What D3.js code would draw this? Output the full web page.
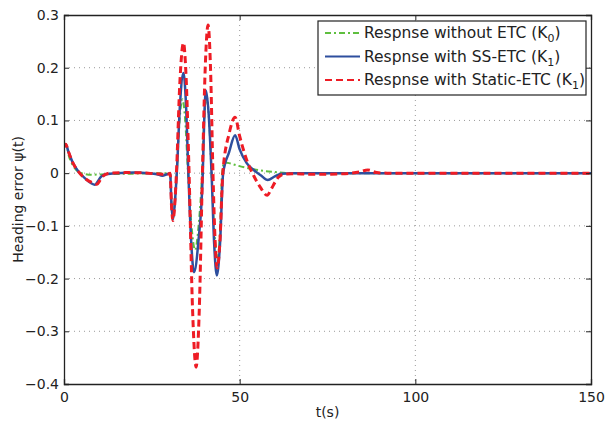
<!DOCTYPE html>
<html>
<head>
<meta charset="utf-8">
<script src="https://cdn.jsdelivr.net/npm/d3@7"></script>
<style>
  body { margin: 0; background: #fff; }
  svg { font-family: "DejaVu Sans", "Liberation Sans", Arial, sans-serif; }
</style>
</head>
<body>
<svg id="chart" width="607" height="426"></svg>
<script>
// data
var tGreen = [0, 0.5, 1.5, 3, 5, 8, 12, 20, 28, 30.2, 30.6, 31, 31.5, 32.1, 32.9, 33.7, 34.5, 35.3, 36.3, 37.3,
  38.3, 39.3, 39.9, 40.6, 41.3, 42, 42.8, 43.7, 44.4, 45, 45.6, 47, 49, 52, 56, 60, 65, 150];
var vGreen = [0.05, 0.055, 0.03, 0.01, 0, -0.003, -0.002, -0.001, 0, 0, -0.06, -0.085, -0.06, 0, 0.1, 0.14, 0.1, 0, -0.1, -0.146,
  -0.1, 0, 0.1, 0.145, 0.1, 0, -0.11, -0.16, -0.11, 0, 0.02, 0.019, 0.015, 0.01, 0.005, 0.002, 0, 0];

var tBlue = [0, 0.5, 1.2, 2.5, 4, 6, 8.8, 9.6, 10.5, 12, 15, 20, 24, 26.5, 28, 29.3, 30.2, 30.6, 31, 31.5,
  32.1, 33.05, 34, 34.7, 35.4, 36.2, 37, 38.25, 39.5, 39.95, 40.4, 41.2, 42, 42.75, 43.5, 44.4, 45.3, 47, 48.7, 50,
  52, 54, 56, 58, 60, 62, 65, 100, 150];
var vBlue = [0.05, 0.055, 0.042, 0.02, 0.004, -0.01, -0.022, -0.016, -0.007, -0.002, 0, 0.001, 0, -0.002, -0.005, -0.002, 0, -0.06, -0.088, -0.06,
  0, 0.134, 0.19, 0.134, 0, -0.13, -0.188, -0.13, 0, 0.11, 0.157, 0.11, 0, -0.135, -0.194, -0.135, 0, 0.04, 0.072, 0.045,
  0.019, 0.006, -0.004, -0.013, -0.006, -0.001, 0, 0, 0];

var tRed = [0, 0.5, 1.2, 2.5, 4, 6, 8, 9.4, 10.2, 11, 13, 18, 24, 28, 29.5, 30.2, 30.6, 31, 31.5, 32,
  33, 34, 34.8, 35.6, 36.6, 37.6, 38.5, 39.4, 40.2, 41, 41.7, 42.4, 43, 43.6, 44.4, 45.2, 47, 48.7, 50, 52,
  54, 56, 57.8, 59, 60, 61, 62.5, 65, 70, 75, 80, 84, 86.5, 89, 92, 100, 150];
var vRed = [0.05, 0.055, 0.042, 0.02, 0.004, -0.01, -0.018, -0.021, -0.014, -0.006, 0, 0.001, 0, -0.002, -0.002, 0, -0.062, -0.09, -0.062, 0,
  0.175, 0.247, 0.175, 0, -0.26, -0.368, -0.26, 0, 0.2, 0.281, 0.2, 0, -0.127, -0.18, -0.127, 0, 0.075, 0.106, 0.07, 0.025,
  -0.005, -0.028, -0.042, -0.03, -0.018, -0.008, -0.002, -0.001, -0.002, -0.002, -0.001, 0.002, 0.006, 0.001, 0, 0, 0];

var xTicks = [0, 50, 100, 150];
var yTicks = [-0.4, -0.3, -0.2, -0.1, 0, 0.1, 0.2, 0.3];

var series = [
  { name: "Respnse without ETC (K", sub: "0", t: tGreen, v: vGreen, color: "#5fbf3f", width: 2, dash: "6,3,2,3" },
  { name: "Respnse with SS-ETC (K", sub: "1", t: tBlue, v: vBlue, color: "#2e4f9e", width: 2.5, dash: null },
  { name: "Respnse with Static-ETC (K", sub: "1", t: tRed, v: vRed, color: "#ee1c25", width: 3, dash: "7,4" }
];

var width = 607, height = 426;
var margin = { top: 15, right: 16, bottom: 42, left: 64 };
var iw = width - margin.left - margin.right,
  ih = height - margin.top - margin.bottom;

var svg = d3.select("#chart");
var g = svg.append("g").attr("transform", "translate(" + margin.left + "," + margin.top + ")");

var x = d3.scaleLinear().domain([0, 150]).range([0, iw]);
var y = d3.scaleLinear().domain([-0.4, 0.3]).range([ih, 0]);

// dotted grid
g.append("g").selectAll("line")
  .data(yTicks.slice(1, -1))
  .join("line")
  .attr("x1", 0).attr("x2", iw)
  .attr("y1", d => y(d)).attr("y2", d => y(d))
  .attr("stroke", "#9a9a9a").attr("stroke-width", 1).attr("stroke-dasharray", "1,4");
g.append("g").selectAll("line")
  .data(xTicks.slice(1, -1))
  .join("line")
  .attr("y1", 0).attr("y2", ih)
  .attr("x1", d => x(d)).attr("x2", d => x(d))
  .attr("stroke", "#9a9a9a").attr("stroke-width", 1).attr("stroke-dasharray", "1,4");

// curves
g.append("clipPath").attr("id", "clip").append("rect")
  .attr("width", iw).attr("height", ih);

series.forEach(function (s) {
  var pts = s.t.map((t, i) => [t, s.v[i]]);
  var line = d3.line()
    .x(d => x(d[0]))
    .y(d => y(d[1]))
    .curve(d3.curveMonotoneX);
  g.append("path")
    .datum(pts)
    .attr("clip-path", "url(#clip)")
    .attr("fill", "none")
    .attr("stroke", s.color)
    .attr("stroke-width", s.width)
    .attr("stroke-dasharray", s.dash)
    .attr("stroke-linejoin", "round")
    .attr("d", line);
});

// axes, ticks inward on all four sides
var xAxis = d3.axisBottom(x).tickValues(xTicks).tickSize(-5).tickPadding(8).tickFormat(d3.format("d"));
var yAxis = d3.axisLeft(y).tickValues(yTicks).tickSize(-5).tickPadding(5).tickFormat(d => d === 0 ? "0" : d3.format(".1f")(d));

g.append("g").attr("transform", "translate(0," + ih + ")").call(xAxis);
g.append("g").call(yAxis);
g.append("g").call(d3.axisTop(x).tickValues(xTicks).tickSize(-5).tickFormat(""));
g.append("g").attr("transform", "translate(" + iw + ",0)")
  .call(d3.axisRight(y).tickValues(yTicks).tickSize(-5).tickFormat(""));

g.selectAll(".domain").attr("stroke", "#222").attr("stroke-width", 1.3);
g.selectAll(".tick line").attr("stroke", "#222");
g.selectAll(".tick text").attr("font-size", 14).attr("fill", "#222")
  .attr("font-family", "'DejaVu Sans', sans-serif");

// axis labels
svg.append("text")
  .attr("x", margin.left + iw / 2)
  .attr("y", 417)
  .attr("text-anchor", "middle")
  .attr("font-size", 14)
  .attr("fill", "#222")
  .text("t(s)");

svg.append("text")
  .attr("transform", "translate(23," + (margin.top + ih / 2) + ") rotate(-90)")
  .attr("text-anchor", "middle")
  .attr("font-size", 14)
  .attr("fill", "#222")
  .text("Heading error \u03c8(t)");

// legend
var lg = g.append("g").attr("transform", "translate(" + (318 - margin.left) + "," + (21 - margin.top) + ")");
lg.append("rect")
  .attr("width", 268).attr("height", 74)
  .attr("fill", "#fff").attr("stroke", "#222").attr("stroke-width", 1.2);

var rows = lg.selectAll("g.row")
  .data(series)
  .join("g")
  .attr("class", "row")
  .attr("transform", (d, i) => "translate(0," + (12 + i * 23.5) + ")");

rows.append("line")
  .attr("x1", 7).attr("x2", 42)
  .attr("stroke", d => d.color)
  .attr("stroke-width", d => Math.min(d.width, 2.2))
  .attr("stroke-dasharray", d => d.dash);

var txt = rows.append("text")
  .attr("x", 46)
  .attr("y", 5)
  .attr("font-size", 15.5)
  .attr("fill", "#222");
txt.append("tspan").text(d => d.name);
txt.append("tspan").attr("dy", 4).attr("font-size", 11).text(d => d.sub);
txt.append("tspan").attr("dy", -4).text(")");
</script>
</body>
</html>
